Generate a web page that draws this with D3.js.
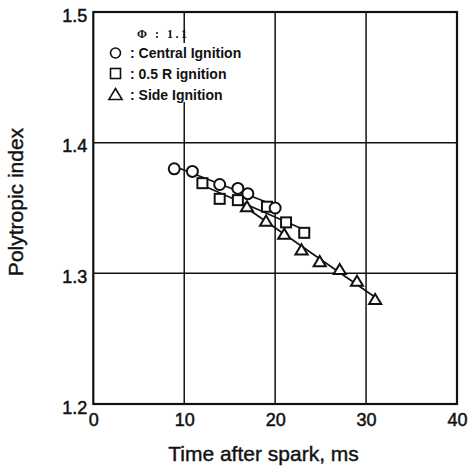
<!DOCTYPE html>
<html><head><meta charset="utf-8">
<script src="https://cdn.jsdelivr.net/npm/d3@7"></script>
<style>
body{margin:0;background:#fff;}
text{font-family:"Liberation Sans",Arial,sans-serif;fill:#111;}
</style></head>
<body><svg id="c" width="469" height="468"></svg>
<script>
const central = [[8.9,1.380],[10.9,1.378],[13.9,1.368],[15.9,1.365],[17.0,1.361],[20.0,1.350]];
const halfR   = [[12.0,1.369],[13.9,1.357],[15.9,1.356],[19.1,1.351],[21.2,1.339],[23.2,1.331]];
const side    = [[16.9,1.351],[19.0,1.340],[21.0,1.330],[22.9,1.318],[24.9,1.309],[27.1,1.303],[29.0,1.294],[31.0,1.280]];
const xTicks = [0,10,20,30,40];
const yTicks = [1.2,1.3,1.4,1.5];
const legendItems = [": Central Ignition", ": 0.5 R ignition", ": Side Ignition"];

const svg = d3.select("#c");
const x = d3.scaleLinear().domain([0,40]).range([93.3,457]);
const y = d3.scaleLinear().domain([1.2,1.5]).range([404,12]);

// gridlines
svg.append("g").selectAll("line").data(xTicks.slice(1,-1)).join("line")
  .attr("x1",d=>x(d)).attr("x2",d=>x(d)).attr("y1",y(1.5)).attr("y2",y(1.2))
  .attr("stroke","#111").attr("stroke-width",1.5);
svg.append("g").selectAll("line").data(yTicks.slice(1,-1)).join("line")
  .attr("y1",d=>y(d)).attr("y2",d=>y(d)).attr("x1",x(0)).attr("x2",x(40))
  .attr("stroke","#111").attr("stroke-width",1.5);

// axes (labels)
const gx = svg.append("g").attr("transform",`translate(0,${y(1.2)})`)
  .call(d3.axisBottom(x).tickValues(xTicks).tickSize(0).tickPadding(9).tickFormat(d3.format("d")));
const gy = svg.append("g").attr("transform",`translate(${x(0)},0)`)
  .call(d3.axisLeft(y).tickValues(yTicks).tickSize(0).tickPadding(6).tickFormat(d3.format(".1f")));
[gx,gy].forEach(g=>{g.select(".domain").remove();g.selectAll("text").attr("font-size",18).attr("fill","#111")
  .attr("stroke","#111").attr("stroke-width",0.5).attr("font-family","Liberation Sans, Arial, sans-serif");});
gy.selectAll("text").attr("dy","0.5em");

// frame
svg.append("rect").attr("x",x(0)).attr("y",y(1.5)).attr("width",x(40)-x(0)).attr("height",y(1.2)-y(1.5))
  .attr("fill","none").attr("stroke","#111").attr("stroke-width",2.2);

// regression lines
function fit(data){
  const mx=d3.mean(data,d=>d[0]), my=d3.mean(data,d=>d[1]);
  const b=d3.sum(data,d=>(d[0]-mx)*(d[1]-my))/d3.sum(data,d=>(d[0]-mx)**2);
  const a=my-b*mx; const ex=d3.extent(data,d=>d[0]);
  return [[ex[0],a+b*ex[0]],[ex[1],a+b*ex[1]]];
}
const line = d3.line().x(d=>x(d[0])).y(d=>y(d[1]));
[side,halfR,central].forEach(s=>{
  svg.append("path").attr("d",line(fit(s))).attr("fill","none").attr("stroke","#111").attr("stroke-width",1.6);
});

// markers
const sym = {
  tri:(g,cx,cy,s)=>g.append("path").attr("d",`M${cx},${cy-s*0.5}L${cx+s*0.55},${cy+s*0.42}L${cx-s*0.55},${cy+s*0.42}Z`),
  sq:(g,cx,cy,s)=>g.append("rect").attr("x",cx-s/2).attr("y",cy-s/2).attr("width",s).attr("height",s),
  circ:(g,cx,cy,s)=>g.append("circle").attr("cx",cx).attr("cy",cy).attr("r",s/2)
};
const mk = svg.append("g").attr("fill","#fff").attr("stroke","#111").attr("stroke-width",2);
side.forEach(d=>sym.tri(mk,x(d[0]),y(d[1]),11));
halfR.forEach(d=>sym.sq(mk,x(d[0]),y(d[1]),10));
central.forEach(d=>sym.circ(mk,x(d[0]),y(d[1]),11));

// legend
const lg = svg.append("g");
lg.append("rect").attr("x",106).attr("y",43).attr("width",148).attr("height",59).attr("fill","#fff");
lg.append("text").attr("x",137).attr("y",38).attr("font-weight","bold")
  .attr("font-size",12).attr("letter-spacing",2.5).attr("xml:space","preserve")
  .style("font-family","Liberation Serif, serif").text("Φ : 1.1");
const rowsY=[53,73.5,94.5];
const lm = lg.append("g").attr("fill","#fff").attr("stroke","#111").attr("stroke-width",1.6);
sym.circ(lm,115.5,rowsY[0],10);
sym.sq(lm,115.5,rowsY[1],10);
sym.tri(lm,115.5,rowsY[2],12);
legendItems.forEach((t,i)=>{
  lg.append("text").attr("x",130).attr("y",rowsY[i]+5).attr("font-size",14).attr("font-weight","bold").text(t);
});

// axis titles
svg.append("text").attr("x",263.5).attr("y",461).attr("text-anchor","middle").attr("font-size",21)
  .attr("stroke","#111").attr("stroke-width",0.4).text("Time after spark, ms");
svg.append("text").attr("transform","translate(22.5,202) rotate(-90)").attr("text-anchor","middle").attr("font-size",21)
  .attr("stroke","#111").attr("stroke-width",0.4).text("Polytropic index");
</script></body></html>
